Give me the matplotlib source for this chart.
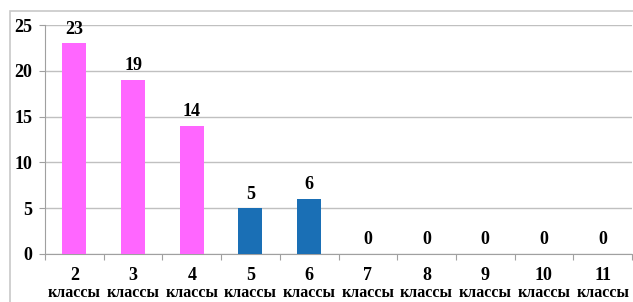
import matplotlib
matplotlib.use("Agg")
import matplotlib.pyplot as plt
from matplotlib.patches import Rectangle

categories = ["2\nклассы", "3\nклассы", "4\nклассы", "5\nклассы", "6\nклассы",
              "7\nклассы", "8\nклассы", "9\nклассы", "10\nклассы", "11\nклассы"]
values = [23, 19, 14, 5, 6, 0, 0, 0, 0, 0]
colors = ["#FF66FF", "#FF66FF", "#FF66FF", "#1A6FB5", "#1A6FB5",
          "#1A6FB5", "#1A6FB5", "#1A6FB5", "#1A6FB5", "#1A6FB5"]
yticks = [0, 5, 10, 15, 20, 25]

plt.rcParams['font.family'] = ['Liberation Serif', 'DejaVu Serif']
plt.rcParams['font.weight'] = 'bold'

fig = plt.figure(figsize=(6.33, 3.02), dpi=100)
fig.patches.append(Rectangle((10/633, -0.1), 1.0, 1 - 11/302 + 0.1,
                             transform=fig.transFigure, fill=False,
                             edgecolor="#C8C8C8", linewidth=1.2))
ax = fig.add_axes([45/633, 1 - 254/302, (632 - 45)/633, (254 - 25)/302])

x = list(range(len(categories)))
bars = ax.bar(x, values, width=0.41, color=colors, zorder=3)
for xi, v in zip(x, values):
    ax.annotate(str(v), (xi, v), xytext=(0, 4), textcoords="offset points",
                ha="center", va="bottom", fontsize=13, fontweight="bold")

ax.set_xlim(-0.5, len(categories) - 0.5)
ax.set_ylim(0, 25)
ax.set_yticks(yticks)
ax.set_yticklabels([str(t) for t in yticks], fontsize=13, fontweight="bold")
ax.yaxis.grid(True, color="#C0C0C0", linewidth=1, zorder=0)
ax.set_axisbelow(True)

ax.set_xticks([i - 0.5 for i in range(len(categories) + 1)], minor=False)
ax.set_xticklabels([])
ax.set_xticks(x, minor=True)
ax.set_xticklabels([c.split("\n")[0] for c in categories], minor=True,
                   fontsize=13, fontweight="bold")
for xi, c in zip(x, categories):
    ax.annotate(c.split("\n")[1], (xi, 0), xycoords=("data", "axes fraction"),
                xytext=(0, -31), textcoords="offset points",
                ha="center", va="baseline", fontsize=11.5, fontweight="bold")
ax.tick_params(axis="x", which="minor", length=0, pad=9)
ax.tick_params(axis="x", which="major", length=4, color="#A0A0A0")
ax.tick_params(axis="y", length=4, color="#A0A0A0", pad=5)

for s in ["top", "right"]:
    ax.spines[s].set_visible(False)
ax.spines["left"].set_color("#A0A0A0")
ax.spines["bottom"].set_color("#A0A0A0")

fig.savefig("out.png", dpi=100)
